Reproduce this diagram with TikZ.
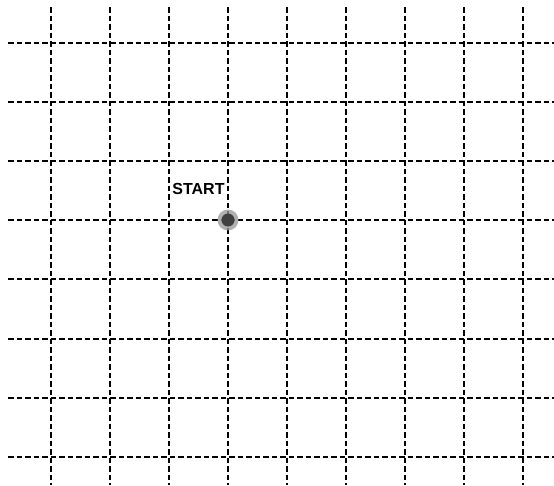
\documentclass[tikz,border=0pt]{standalone}
\usepackage{fontspec}
\setsansfont{Liberation Sans}
\usetikzlibrary{positioning}
\definecolor{dotgray}{RGB}{64,64,64}
\definecolor{halogray}{RGB}{150,150,150}

\begin{document}
\begin{tikzpicture}[x=1pt, y=-1pt,
  gridline/.style={line width=2pt, dash pattern=on 5.5pt off 3pt},
  startdot/.style={circle, fill=dotgray, minimum size=13pt, inner sep=0pt},
  halo/.style={circle, fill=halogray, opacity=0.75, minimum size=21pt, inner sep=0pt},
  lbl/.style={font=\sffamily\bfseries\fontsize{16}{16}\selectfont, inner sep=0pt},
]
  \useasboundingbox (0,0) rectangle (554,485);

  % grid
  \foreach \i in {0,...,8}
    \draw[gridline] ({50.5+59.1*\i},7) -- ++(0,478);
  \foreach \j in {0,...,7}
    \draw[gridline] (8,{43+59.1*\j}) -- (554,{43+59.1*\j});

  % start point
  \node[halo] (glow) at (228,220) {};
  \node[startdot] (start) at (228,220) {};
  \node[lbl, above left=20.5pt and -1.5pt of start] (startlbl) {START};
\end{tikzpicture}
\end{document}
